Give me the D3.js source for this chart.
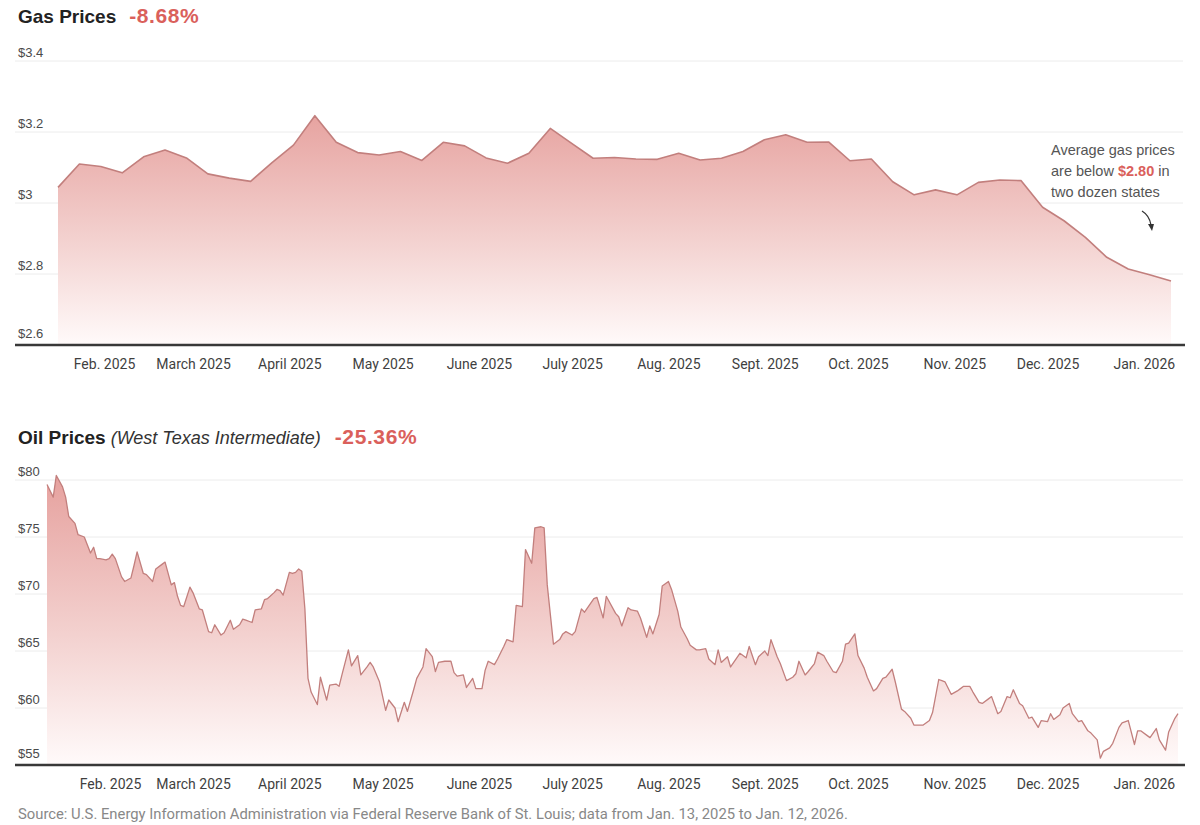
<!DOCTYPE html>
<html>
<head>
<meta charset="utf-8">
<script src="https://cdn.jsdelivr.net/npm/d3@7"></script>
<style>
  html, body { margin: 0; padding: 0; background: #fff; }
  svg { display: block; font-family: "Liberation Sans", Arial, sans-serif; }
</style>
</head>
<body>
<svg id="chart" width="1200" height="825"></svg>
<script>
// ---------- DATA ----------
const monthTicks = ["2025-02-01","2025-03-01","2025-04-01","2025-05-01","2025-06-01","2025-07-01",
  "2025-08-01","2025-09-01","2025-10-01","2025-11-01","2025-12-01","2026-01-01"];
const monthLabels = ["Feb. 2025","March 2025","April 2025","May 2025","June 2025","July 2025",
  "Aug. 2025","Sept. 2025","Oct. 2025","Nov. 2025","Dec. 2025","Jan. 2026"];

const gasTicks = [3.4, 3.2, 3.0, 2.8, 2.6];
const gasTickLabels = ["$3.4", "$3.2", "$3", "$2.8", "$2.6"];
const oilTicks = [80, 75, 70, 65, 60, 55];
const oilTickLabels = ["$80", "$75", "$70", "$65", "$60", "$55"];

// Weekly regular gasoline price (USD/gal)
const gasDates = ["2025-01-13","2025-01-20","2025-01-27","2025-02-03","2025-02-10","2025-02-17","2025-02-24",
  "2025-03-03","2025-03-10","2025-03-17","2025-03-24","2025-03-31","2025-04-07","2025-04-14","2025-04-21",
  "2025-04-28","2025-05-05","2025-05-12","2025-05-19","2025-05-26","2025-06-02","2025-06-09","2025-06-16",
  "2025-06-23","2025-06-30","2025-07-07","2025-07-14","2025-07-21","2025-07-28","2025-08-04","2025-08-11",
  "2025-08-18","2025-08-25","2025-09-01","2025-09-08","2025-09-15","2025-09-22","2025-09-29","2025-10-06",
  "2025-10-13","2025-10-20","2025-10-27","2025-11-03","2025-11-10","2025-11-17","2025-11-24","2025-12-01",
  "2025-12-08","2025-12-15","2025-12-22","2025-12-29","2026-01-05","2026-01-12"];
const gasValues = [3.044,3.110,3.103,3.085,3.130,3.149,3.127,3.082,3.070,3.061,3.114,3.163,3.246,3.171,3.142,
  3.135,3.145,3.120,3.171,3.161,3.127,3.112,3.140,3.210,3.168,3.126,3.128,3.124,3.123,3.140,3.121,3.126,3.145,
  3.178,3.192,3.171,3.172,3.119,3.124,3.060,3.023,3.037,3.023,3.058,3.065,3.063,2.988,2.950,2.903,2.847,2.814,
  2.798,2.780];

// WTI crude (USD/barrel); dates given as days since Jan. 13, 2025
const oilStart = "2025-01-13";
const oilDayOffsets = [0,2,3,5,6,7,9,10,12,13,14,15,16,17,19,20,21,22,24,25,27,28,29,31,32,34,35,37,38,40,
  41,42,43,44,46,47,49,50,52,53,54,56,57,59,60,62,63,64,66,67,69,70,71,73,74,75,76,78,79,80,81,82,83,84,85,
  87,88,90,91,93,94,95,97,98,100,101,103,104,105,107,109,110,112,113,115,116,118,119,121,122,124,125,126,128,
  130,131,132,134,135,137,138,140,141,142,144,145,147,148,150,151,153,154,156,157,159,160,161,163,165,166,
  167,169,170,172,173,175,176,177,179,180,
  183,184,185,187,188,190,191,193,194,195,197,198,200,201,203,204,206,207,209,210,212,213,215,216,217,219,
  220,222,223,225,226,228,229,231,232,233,235,236,238,240,241,242,244,245,247,248,250,251,253,254,256,257,
  258,260,261,263,264,266,267,269,270,272,273,275,276,278,279,281,282,284,285,287,288,289,291,293,294,295,
  297,298,300,301,303,304,306,307,309,310,311,313,314,316,317,319,320,322,323,324,326,327,329,330,332,333,
  335,336,338,339,340,342,343,345,346,348,350,351,352,354,355,357,358,360,361,363,364];
const oilValues = [79.6,78.5,80.4,79.4,78.5,76.8,76.2,75.2,75.0,74.3,73.6,74.1,73.1,73.1,73.0,73.1,73.5,73.1,
  71.5,71.1,71.4,72.5,73.7,71.8,71.7,71.1,72.2,72.6,72.8,70.8,71.0,69.8,69.0,68.9,70.6,70.1,68.7,68.6,66.7,
  66.6,67.3,66.4,66.6,67.7,66.9,67.3,67.8,67.7,67.5,68.6,68.7,69.5,69.6,70.1,70.4,70.3,69.9,71.9,71.8,71.9,
  72.2,72.0,68.7,62.6,61.4,60.3,62.7,60.7,62.0,62.1,61.9,63.0,65.1,63.7,64.6,62.9,63.6,64.0,63.6,62.3,59.8,
  60.7,60.0,58.8,60.5,59.7,61.6,62.6,63.6,65.2,64.5,63.2,64.0,64.1,64.1,63.1,62.8,62.9,61.8,62.6,61.7,61.7,
  63.3,64.1,63.8,64.3,65.4,66.0,65.8,69.0,68.9,73.9,72.7,75.8,75.9,75.8,70.8,65.6,66.0,66.5,66.7,66.4,66.7,
  68.7,68.4,69.2,69.6,69.7,67.9,69.8,
  68.3,68.0,67.2,68.8,68.6,68.5,67.9,66.2,67.2,66.5,68.2,70.7,71.1,70.4,68.5,67.1,66.1,65.5,65.1,65.1,65.2,
  64.3,63.8,65.1,64.0,64.5,63.6,64.4,64.8,64.4,65.4,63.8,64.5,65.0,64.6,66.0,64.5,63.9,62.4,62.7,63.0,64.1,
  62.9,63.2,63.9,64.9,64.6,64.1,63.2,63.1,64.1,65.6,65.7,66.5,64.6,63.5,62.7,61.5,61.7,62.6,62.7,63.4,62.3,
  59.9,59.7,59.1,58.5,58.5,58.5,58.9,59.6,62.5,62.4,62.3,61.2,61.5,61.7,61.9,61.9,61.4,60.5,60.4,60.8,61.0,
  59.5,59.7,61.0,60.9,61.6,60.4,60.2,59.1,59.2,58.3,58.9,58.8,59.5,59.0,59.4,60.0,60.4,59.5,58.8,58.9,58.0,
  57.8,57.2,55.6,56.2,56.5,56.9,58.3,58.7,58.9,56.8,58.0,58.0,57.6,57.4,58.2,57.2,56.3,57.9,59.1,59.5];

const titles = { gas: "Gas Prices", gasChange: "-8.68%", oil: "Oil Prices", oilSub: "(West Texas Intermediate)", oilChange: "-25.36%" };
const sourceText = "Source: U.S. Energy Information Administration via Federal Reserve Bank of St. Louis; data from Jan. 13, 2025 to Jan. 12, 2026.";

// ---------- DRAW ----------
const parse = d3.utcParse("%Y-%m-%d");
const svg = d3.select("#chart");
const RED = "#da605b";
const LINE = "#c27f7d";

const gas = gasDates.map((d, i) => ({ date: parse(d), value: gasValues[i] }));
const oil0 = parse(oilStart);
const oil = oilDayOffsets.map((o, i) => ({ date: d3.utcDay.offset(oil0, o), value: oilValues[i] }));

const domain = [parse("2025-01-13"), parse("2026-01-12")];
const xAxisScale = d3.scaleUtc().domain(domain).range([47, 1178]);
const xGas = d3.scaleUtc().domain(domain).range([58, 1171]);
const xOil = xAxisScale;

const yGas = d3.scaleLinear().domain([2.6, 3.4]).range([345, 61]);
const yOil = d3.scaleLinear().domain([55, 80]).range([765, 480]);

const defs = svg.append("defs");
function grad(id, y1, y2) {
  const g = defs.append("linearGradient").attr("id", id)
    .attr("gradientUnits", "userSpaceOnUse").attr("x1", 0).attr("x2", 0).attr("y1", y1).attr("y2", y2);
  g.append("stop").attr("offset", 0).attr("stop-color", "#e6a19e");
  g.append("stop").attr("offset", 0.55).attr("stop-color", "#f3d1cf");
  g.append("stop").attr("offset", 1).attr("stop-color", "#fffafa");
}
grad("gasGrad", 110, 345);
grad("oilGrad", 475, 765);

function panel(opt) {
  const g = svg.append("g");
  g.selectAll(".grid").data(opt.ticks.slice(0, -1)).join("line")
    .attr("x1", 15).attr("x2", 1183)
    .attr("y1", d => opt.y(d)).attr("y2", d => opt.y(d))
    .attr("stroke", "#ececec").attr("stroke-width", 1);
  const area = d3.area().x(d => opt.x(d.date)).y0(opt.y(opt.ticks[opt.ticks.length - 1])).y1(d => opt.y(d.value));
  g.append("path").datum(opt.data).attr("d", area).attr("fill", `url(#${opt.grad})`);
  const line = d3.line().x(d => opt.x(d.date)).y(d => opt.y(d.value));
  g.append("path").datum(opt.data).attr("d", line).attr("fill", "none")
    .attr("stroke", LINE).attr("stroke-width", opt.lw).attr("stroke-linejoin", "round");
  g.selectAll(".yl").data(opt.ticks).join("text")
    .attr("x", 18).attr("y", (d, i) => opt.y(d) - (i === opt.ticks.length - 1 ? 7 : 4))
    .attr("font-size", 13).attr("fill", "#4a4a4a").text((d, i) => opt.tickLabels[i]);
  const base = opt.y(opt.ticks[opt.ticks.length - 1]);
  g.append("line").attr("x1", 15).attr("x2", 1185).attr("y1", base).attr("y2", base)
    .attr("stroke", "#383838").attr("stroke-width", 2.5);
  const ax = d3.axisBottom(xAxisScale).tickValues(monthTicks.map(parse))
    .tickFormat((d, i) => monthLabels[i]).tickSize(0).tickPadding(0);
  const axg = g.append("g").attr("transform", `translate(0,${base + 14})`).call(ax);
  axg.select(".domain").remove();
  axg.selectAll("text").attr("font-size", 14).attr("fill", "#3f3f3f")
    .attr("font-family", "Roboto, 'Liberation Sans', sans-serif")
    .attr("dx", (d, i) => (i === 0 ? opt.febShift : 0));
  return g;
}

panel({ data: gas, x: xGas, y: yGas, ticks: gasTicks, tickLabels: gasTickLabels, grad: "gasGrad", lw: 1.6, febShift: -2 });
panel({ data: oil, x: xOil, y: yOil, ticks: oilTicks, tickLabels: oilTickLabels, grad: "oilGrad", lw: 1.3, febShift: 4 });

// titles
const t1 = svg.append("text").attr("x", 18).attr("y", 23).attr("font-size", 19);
t1.append("tspan").attr("font-weight", "bold").attr("fill", "#222").text(titles.gas);
t1.append("tspan").attr("dx", 13).attr("font-weight", "bold").attr("fill", RED).attr("font-size", 21)
  .attr("letter-spacing", 0.6).text(titles.gasChange);

const t2 = svg.append("text").attr("x", 18).attr("y", 444).attr("font-size", 19);
t2.append("tspan").attr("font-weight", "bold").attr("fill", "#222").text(titles.oil);
t2.append("tspan").attr("dx", 5).attr("font-style", "italic").attr("fill", "#333").attr("font-size", 18).text(titles.oilSub);
t2.append("tspan").attr("dx", 14).attr("font-weight", "bold").attr("fill", RED).attr("font-size", 21)
  .attr("letter-spacing", 0.6).text(titles.oilChange);

// annotation
svg.append("rect").attr("x", 1045).attr("y", 138).attr("width", 138).attr("height", 62).attr("fill", "#fff");
const ann = svg.append("text").attr("font-size", 14.5).attr("fill", "#555");
ann.append("tspan").attr("x", 1051).attr("y", 155).text("Average gas prices");
const l2 = ann.append("tspan").attr("x", 1051).attr("y", 176);
l2.append("tspan").text("are below ");
l2.append("tspan").attr("font-weight", "bold").attr("fill", RED).text("$2.80");
l2.append("tspan").text(" in");
ann.append("tspan").attr("x", 1051).attr("y", 197).text("two dozen states");
svg.append("path").attr("d", "M1142,211 C1147,214 1150,219 1151,225").attr("fill", "none")
  .attr("stroke", "#333").attr("stroke-width", 1.3);
svg.append("path").attr("d", "M1148,224 L1154,224 L1152,231 Z").attr("fill", "#333");

// source
svg.append("text").attr("x", 18).attr("y", 819).attr("font-size", 14.8).attr("fill", "#888")
  .attr("font-family", "Roboto, 'Liberation Sans', sans-serif").text(sourceText);
</script>
</body>
</html>
